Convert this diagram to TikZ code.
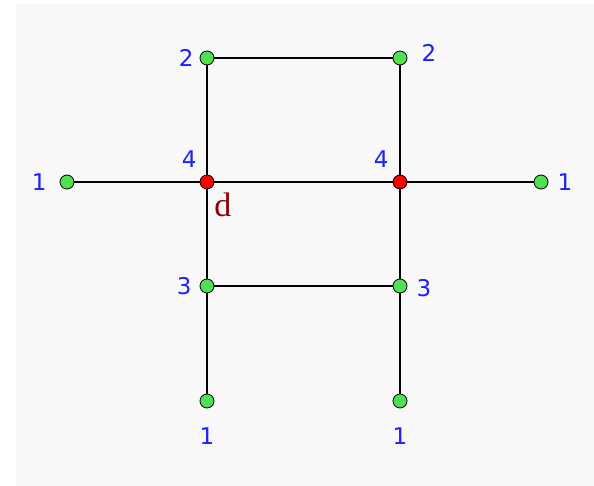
\documentclass[tikz,border=0pt]{standalone}
\usepackage{fontspec}
\newfontfamily\labelfont{DejaVu Sans}
\newfontfamily\markfont{Liberation Serif}
\usepackage{xcolor}
\usepackage{tikz}
\usetikzlibrary{positioning}
\definecolor{vgreen}{RGB}{80,224,80}
\definecolor{vred}{RGB}{255,0,0}
\definecolor{lblue}{RGB}{30,30,255}
\definecolor{dred}{RGB}{140,0,0}
\definecolor{panel}{RGB}{248,248,248}
\tikzset{
    gvertex/.style={draw, circle, line width=0.8pt, fill=vgreen, minimum size=14pt, inner sep=0pt},
    hvertex/.style={gvertex, fill=vred},
    glabel/.style={text=lblue, font=\labelfont\fontsize{23}{23}\selectfont, inner sep=0pt},
    gmark/.style={text=dred, font=\markfont\fontsize{34}{34}\selectfont, inner sep=0pt},
    gedge/.style={draw, line width=1.3pt}
}

\begin{document}
\begin{tikzpicture}[x=1pt, y=-1pt]
    \useasboundingbox (0,0) rectangle (594,486);
    \fill[panel] (16,4) rectangle (594,486);

    \node[gvertex] (tl) at (207,58) {};
    \node[gvertex] (tr) at (400,58) {};
    \node[gvertex] (l) at (67,182) {};
    \node[hvertex] (dl) at (207,182) {};
    \node[hvertex] (dr) at (400,182) {};
    \node[gvertex] (r) at (541,182) {};
    \node[gvertex] (ml) at (207,286) {};
    \node[gvertex] (mr) at (400,286) {};
    \node[gvertex] (bl) at (207,401) {};
    \node[gvertex] (br) at (400,401) {};

    \draw[gedge] (tl) -- (tr);
    \draw[gedge] (tl) -- (dl);
    \draw[gedge] (tr) -- (dr);
    \draw[gedge] (l) -- (dl);
    \draw[gedge] (dl) -- (dr);
    \draw[gedge] (dr) -- (r);
    \draw[gedge] (dl) -- (ml);
    \draw[gedge] (dr) -- (mr);
    \draw[gedge] (ml) -- (mr);
    \draw[gedge] (ml) -- (bl);
    \draw[gedge] (mr) -- (br);

    \node[glabel, left=6pt of tl] (tllab) {2};
    \node[glabel, right=14pt of tr, yshift=5pt] (trlab) {2};
    \node[glabel, left=13pt of l] (llab) {1};
    \node[glabel, above left=9pt and 5pt of dl] (dllab) {4};
    \node[glabel, above left=9pt and 6pt of dr] (drlab) {4};
    \node[glabel, right=9pt of r] (rlab) {1};
    \node[glabel, left=8pt of ml] (mllab) {3};
    \node[glabel, right=9pt of mr, yshift=-2pt] (mrlab) {3};
    \node[glabel, below=19pt of bl] (bllab) {1};
    \node[glabel, below=19pt of br] (brlab) {1};
    \node[gmark, below right=5pt and 2pt of dl] (dmark) {d};
\end{tikzpicture}
\end{document}
